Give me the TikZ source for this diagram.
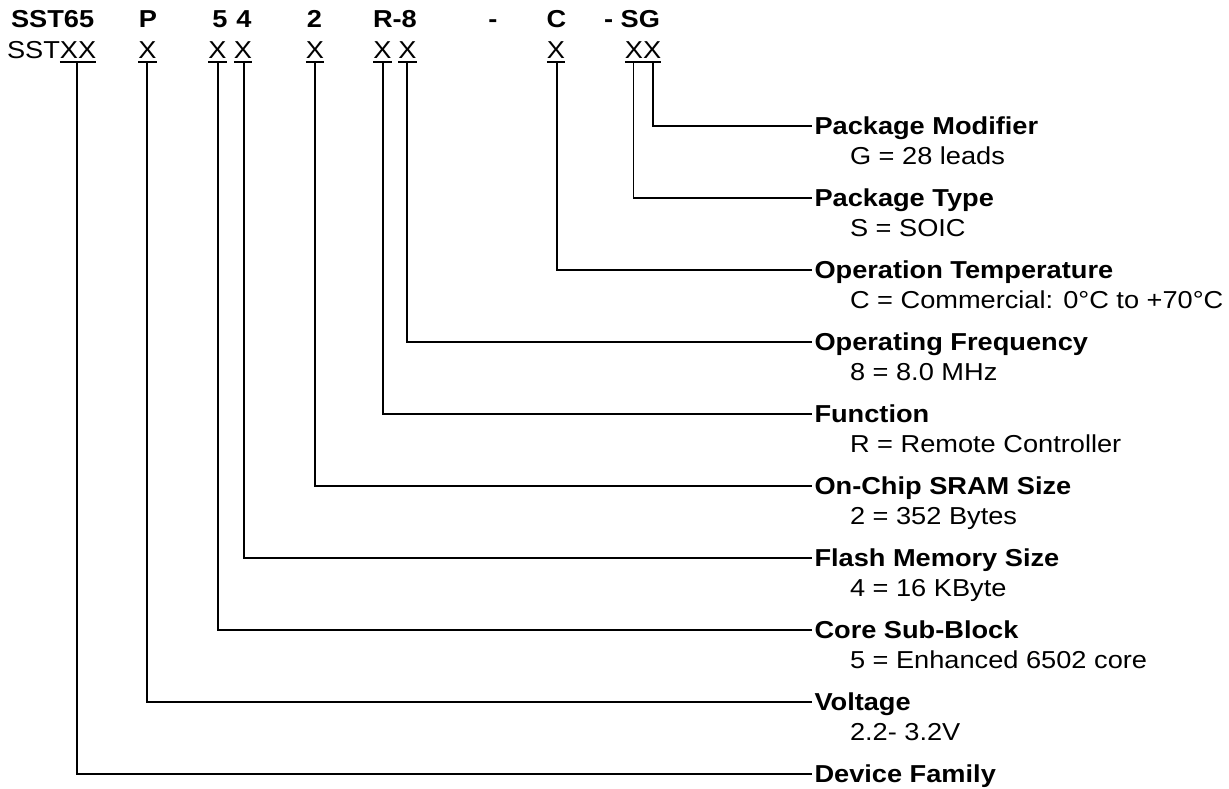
\documentclass[tikz,border=0pt]{standalone}
\usepackage{fontspec}
\setmainfont[FakeStretch=1.11]{Liberation Sans}
\begin{document}
\begin{tikzpicture}[x=1pt,y=-1pt,
  every node/.style={inner sep=0pt,outer sep=0pt,font=\fontsize{24.5}{28}\selectfont},
  codetop/.style={font=\fontsize{24.5}{28}\selectfont\bfseries},
  uline/.style={line width=1.3pt},
  conn/.style={line width=1.8pt},
  lbl/.style={anchor=west,inner xsep=2.5pt,text height=16pt,text depth=0pt,font=\fontsize{24.5}{28}\selectfont\bfseries},
  sub/.style={anchor=base west}
]
\useasboundingbox (0,0) rectangle (1229,788);
% top row
\node[codetop,anchor=base west] (t1) at (11,27) {SST65};
\node[codetop,anchor=base] (t2) at (148,27) {P};
\node[codetop,anchor=base] (t3) at (220,27) {5};
\node[codetop,anchor=base] (t4) at (244,27) {4};
\node[codetop,anchor=base] (t5) at (314.5,27) {2};
\node[codetop,anchor=base west] (t6) at (373,27) {R-8};
\node[codetop,anchor=base] (t7) at (493,27) {-};
\node[codetop,anchor=base] (t8) at (556.5,27) {C};
\node[codetop,anchor=base east] (t9) at (660,27) {- SG};
% second row
\node[anchor=base west] (s0) at (7,58) {SST};
\node[anchor=base west] (s1) at (s0.base east) {XX};
\node[anchor=base] (s2) at (147.5,58) {X};
\node[anchor=base] (s3) at (217.5,58) {X};
\node[anchor=base] (s4) at (243,58) {X};
\node[anchor=base] (s5) at (315,58) {X};
\node[anchor=base] (s6) at (382.5,58) {X};
\node[anchor=base] (s7) at (407.5,58) {X};
\node[anchor=base] (s8) at (556,58) {X};
\node[anchor=base] (s9) at (643,58) {XX};
% underlines
\draw[uline] (s1.west |- 0,62) -- (s1.east |- 0,62);
\foreach \n in {s2,s3,s4,s5,s6,s7,s8,s9}{
  \draw[uline] (\n.west |- 0,62) -- (\n.east |- 0,62);
}
% tap coordinates
\coordinate (tap-df) at (77,62);
\coordinate (tap-vo) at (147,62);
\coordinate (tap-cs) at (218,62);
\coordinate (tap-fm) at (244,62);
\coordinate (tap-os) at (315,62);
\coordinate (tap-fn) at (383,62);
\coordinate (tap-of) at (407,62);
\coordinate (tap-ot) at (557,62);
\coordinate (tap-pt) at (633.5,62);
\coordinate (tap-pm) at (653,62);
% labels
\node[lbl] (pm) at (812,126) {Package Modifier};
\node[sub] (d-pm) at (850,164) {G = 28 leads};
\node[lbl] (pt) at (812,198) {Package Type};
\node[sub] (d-pt) at (850,236) {S = SOIC};
\node[lbl] (ot) at (812,270) {Operation Temperature};
\node[sub] (d-ot) at (850,308) {C = Commercial: 0°C to +70°C};
\node[lbl] (of) at (812,342) {Operating Frequency};
\node[sub] (d-of) at (850,380) {8 = 8.0 MHz};
\node[lbl] (fn) at (812,414) {Function};
\node[sub] (d-fn) at (850,452) {R = Remote Controller};
\node[lbl] (os) at (812,486) {On-Chip SRAM Size};
\node[sub] (d-os) at (850,524) {2 = 352 Bytes};
\node[lbl] (fm) at (812,558) {Flash Memory Size};
\node[sub] (d-fm) at (850,596) {4 = 16 KByte};
\node[lbl] (cs) at (812,630) {Core Sub-Block};
\node[sub] (d-cs) at (850,668) {5 = Enhanced 6502 core};
\node[lbl] (vo) at (812,702) {Voltage};
\node[sub] (d-vo) at (850,740) {2.2- 3.2V};
\node[lbl] (df) at (812,774) {Device Family};
% connectors
\foreach \a in {pm,pt,ot,of,fn,os,fm,cs,vo,df}{
  \draw[conn] (tap-\a) |- (\a.west);
}
\end{tikzpicture}
\end{document}
